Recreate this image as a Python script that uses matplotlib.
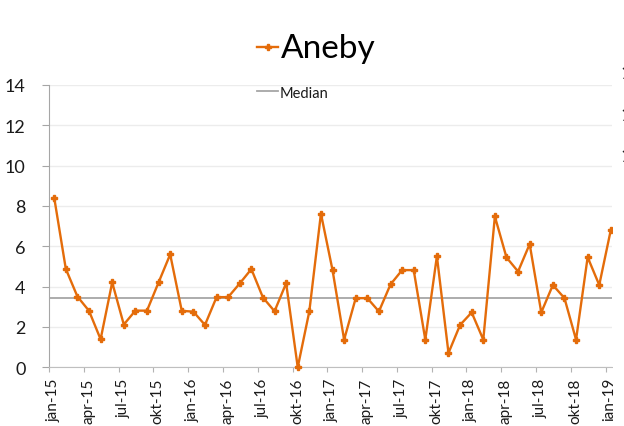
import matplotlib
matplotlib.use("Agg")
import matplotlib.pyplot as plt
import matplotlib.transforms as mtransforms
from matplotlib.lines import Line2D
from matplotlib.patches import Rectangle
import numpy as np

plt.rcParams['font.family'] = ['Lato', 'DejaVu Sans']

series_name = "Aneby"
median_name = "Median"
values = [8.41, 4.88, 3.51, 2.80, 1.39, 4.21, 2.12, 2.81, 2.81, 4.21, 5.60, 2.80,
          2.76, 2.10, 3.48, 3.48, 4.16, 4.87, 3.46, 2.78, 4.17, 0.00, 2.78, 7.62,
          4.82, 1.37, 3.43, 3.43, 2.77, 4.11, 4.82, 4.82, 1.37, 5.51, 0.71, 2.10,
          2.72, 1.37, 7.48, 5.45, 4.75, 6.11, 2.72, 4.08, 3.43, 1.37, 5.46, 4.08,
          6.82]
median_value = 3.43
tick_labels = ["jan-15", "apr-15", "jul-15", "okt-15",
               "jan-16", "apr-16", "jul-16", "okt-16",
               "jan-17", "apr-17", "jul-17", "okt-17",
               "jan-18", "apr-18", "jul-18", "okt-18", "jan-19"]
y_ticks = [0, 2, 4, 6, 8, 10, 12, 14]
edge_labels = ["14", "12", "10"]

orange = "#E46C0A"
W, H = 624, 427
fig = plt.figure(figsize=(W / 100, H / 100), dpi=100)
ax = fig.add_axes([49 / W, 1 - 368.3 / H, (612 - 49) / W, (368.3 - 86) / H])

months = np.arange(len(values))
xpos = months + 0.45
ax.plot(xpos, values, color=orange, lw=1.7, marker='P', ms=4.5,
        mec=orange, mfc=orange, zorder=3, clip_on=False)
ax.plot([0, 48.55], [median_value, median_value], color="#a6a6a6", lw=1.3, zorder=2)

ax.set_xlim(0, 48.55)
ax.set_ylim(0, 14)
ax.set_yticks(y_ticks)
ax.set_yticklabels([str(v) for v in y_ticks], fontsize=13, color="#1a1a1a")
ax.set_xticks(np.arange(0, 49, 3))
ax.set_xticklabels(tick_labels, rotation=90, fontsize=11, color="#1a1a1a")
ax.tick_params(axis='y', length=5.3, color="#a6a6a6", pad=11.5)
ax.tick_params(axis='x', length=3.6, color="#b3b3b3", pad=4)
shift = mtransforms.ScaledTranslation(4.5 / 100, 0, fig.dpi_scale_trans)
for lab in ax.get_xticklabels():
    lab.set_transform(lab.get_transform() + shift)
ax.grid(axis='y', color="#ececec", lw=1)
ax.set_axisbelow(True)
for s in ['top', 'right']:
    ax.spines[s].set_visible(False)
ax.spines['left'].set_color("#a6a6a6")
ax.spines['bottom'].set_color("#bfbfbf")

# legend entries drawn at top
fig.add_artist(Line2D([257 / W, 278 / W], [1 - 47.7 / H] * 2, color=orange, lw=1.7))
fig.add_artist(Line2D([268 / W], [1 - 47.7 / H], color=orange, marker='P', ms=4, lw=0))
fig.text(281 / W, 1 - 57.7 / H, series_name, fontsize=24, va='baseline', ha='left', color="#000000")
fig.add_artist(Line2D([257 / W, 278 / W], [1 - 91.7 / H] * 2, color="#a6a6a6", lw=1.3))
fig.text(280 / W, 1 - 97.7 / H, median_name, fontsize=10.5, va='baseline', ha='left', color="#1a1a1a")

# the neighbouring chart overlaps the right edge
fig.add_artist(Rectangle((613 / W, 0), (W - 613) / W, 1, transform=fig.transFigure,
                         facecolor="white", edgecolor="none", zorder=10))
for lab, yb in zip(edge_labels, [79, 121, 162]):
    fig.text(620 / W, 1 - yb / H, lab, fontsize=14, va='baseline', ha='left',
             color="#1a1a1a", zorder=11)

fig.savefig("out.png", dpi=100)
